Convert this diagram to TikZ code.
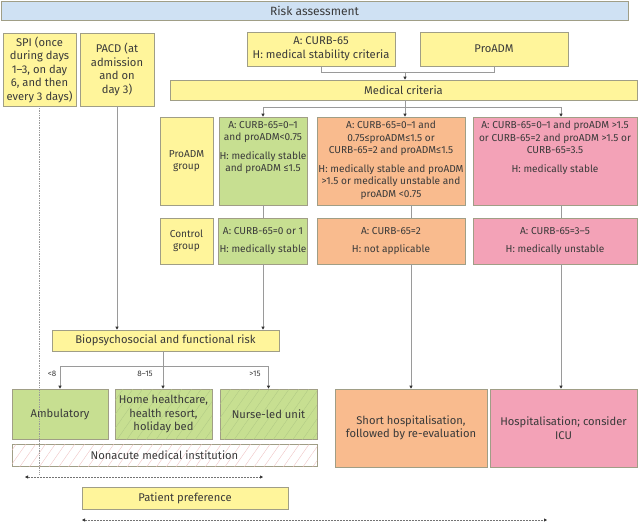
\documentclass[tikz,border=0pt]{standalone}
\usepackage{fontspec}
\setmainfont{Fira Sans}
\usepackage{tikz}
\usetikzlibrary{arrows.meta}
\usetikzlibrary{calc}
\usetikzlibrary{patterns.meta}

\definecolor{riskblue}{HTML}{CFE1F3}
\definecolor{boxyellow}{HTML}{FFF59B}
\definecolor{boxgreen}{HTML}{C7DF91}
\definecolor{boxorange}{HTML}{F9BB8E}
\definecolor{boxpink}{HTML}{F3A2B7}
\definecolor{boxline}{HTML}{A09E86}
\definecolor{edgegray}{HTML}{9A9A9A}
\definecolor{hatchgreen}{HTML}{B0C985}
\definecolor{hatchpink}{HTML}{EFC0C0}
\definecolor{textgray}{HTML}{3A3A3A}

\begin{document}
\begin{tikzpicture}[x=1pt, y=-1pt, font=\fontsize{10.1}{12.5}\selectfont, text=textgray,
        box_style/.style={draw=boxline, line width=0.6pt, inner sep=1pt, align=center},
        risk_style/.style={box_style, fill=riskblue, font=\fontsize{12}{13}\selectfont},
        yellow_style/.style={box_style, fill=boxyellow},
        green_style/.style={box_style, fill=boxgreen},
        orange_style/.style={box_style, fill=boxorange},
        pink_style/.style={box_style, fill=boxpink},
        big_style/.style={font=\fontsize{11.2}{13.5}\selectfont},
        hatch_style/.style={postaction={pattern={Lines[angle=55,distance=8pt,line width=0.35pt]}, pattern color=#1}},
        text_style/.style={align=center, inner sep=0pt, anchor=north},
        label_style/.style={font=\fontsize{8}{9}\selectfont, inner sep=0pt},
        edge_style/.style={draw=edgegray, line width=0.7pt},
        arrow_style/.style={edge_style, -{Triangle[length=3pt,width=3pt,color=black!80]}},
        dot_style/.style={draw=edgegray, line width=0.7pt, densely dotted},
        dotarrow_style/.style={draw=black!55, line width=0.5pt, densely dotted,
            {Triangle[length=3pt,width=3pt,color=black!80]}-{Triangle[length=3pt,width=3pt,color=black!80]}}]

        \useasboundingbox (0,0) rectangle (642,523);

        \node [risk_style, minimum width=627, minimum height=19] (risk) at (314.5,10.5) {Risk assessment};

        \node [yellow_style, big_style, minimum width=73, minimum height=73] (spi) at (39.5,69.5) {SPI (once\\during days\\1--3, on day\\6, and then\\every 3 days)};
        \node [yellow_style, big_style, minimum width=74, minimum height=73] (pacd) at (117,69.5) {PACD (at\\admission\\and on\\day 3)};
        \node [yellow_style, big_style, minimum width=148, minimum height=34] (curb) at (321,49) {A: CURB-65\\H: medical stability criteria};
        \node [yellow_style, big_style, minimum width=148, minimum height=34] (proadm) at (494,49) {ProADM};
        \node [yellow_style, big_style, minimum width=467, minimum height=20] (medical) at (403.5,90) {Medical criteria};

        \node [yellow_style, minimum width=53, minimum height=88] (pgroup) at (186.5,161) {ProADM\\group};
        \node [green_style, minimum width=88, minimum height=88] (g1) at (263,161) {};
        \node [orange_style, minimum width=148, minimum height=88] (o1) at (391,161) {};
        \node [pink_style, minimum width=164, minimum height=88] (p1) at (555,161) {};
        \node [text_style] (g1t) at (263,121) {A: CURB-65=0--1\\and proADM<0.75\\[6pt]H: medically stable\\and proADM ≤1.5};
        \node [text_style] (o1t) at (391,121) {A: CURB-65=0--1 and\\0.75≤proADM≤1.5 or\\CURB-65=2 and proADM≤1.5\\[6pt]H: medically stable and proADM\\>1.5 or medically unstable and\\proADM <0.75};
        \node [text_style] (p1t) at (555,121) {A: CURB-65=0--1 and proADM >1.5\\or CURB-65=2 and proADM >1.5 or\\CURB-65=3.5\\[6pt]H: medically stable};

        \node [yellow_style, minimum width=53, minimum height=46] (cgroup) at (186.5,241) {Control\\group};
        \node [green_style, minimum width=88, minimum height=46] (g2) at (263,241) {A: CURB-65=0 or 1\\[6pt]H: medically stable};
        \node [orange_style, minimum width=148, minimum height=46] (o2) at (391,241) {A: CURB-65=2\\[6pt]H: not applicable};
        \node [pink_style, minimum width=164, minimum height=46] (p2) at (555,241) {A: CURB-65=3--5\\[6pt]H: medically unstable};

        \node [yellow_style, big_style, minimum width=227, minimum height=21] (bio) at (165.5,340.5) {Biopsychosocial and functional risk};

        \node [green_style, big_style, minimum width=96, minimum height=50] (amb) at (60,414) {Ambulatory};
        \node [green_style, big_style, hatch_style=hatchgreen, minimum width=97, minimum height=50] (home) at (163.5,414) {Home healthcare,\\health resort,\\holiday bed};
        \node [green_style, big_style, hatch_style=hatchgreen, minimum width=97, minimum height=50] (nurse) at (268.5,414) {Nurse-led unit};
        \node [box_style, big_style, fill=white, hatch_style=hatchpink, minimum width=305, minimum height=22] (nonacute) at (164.5,455) {Nonacute medical institution};

        \node [orange_style, big_style, minimum width=152, minimum height=78] (short) at (411,428) {Short hospitalisation,\\followed by re-evaluation};
        \node [pink_style, big_style, minimum width=147, minimum height=78] (hosp) at (563.5,428) {Hospitalisation; consider\\ICU};

        \node [yellow_style, big_style, minimum width=206, minimum height=22] (patient) at (185,498) {Patient preference};

        \draw [edge_style] (curb.south) -- ++(0,6) -| (proadm.south);
        \coordinate (cj) at (405,72);
        \draw [arrow_style] (cj) -- (cj |- medical.north);

        \coordinate (mj) at (405,107);
        \draw [edge_style] (mj |- medical.south) -- (mj);
        \draw [arrow_style] (mj) -| (g1.north);
        \draw [arrow_style] (mj) -- (mj |- o1.north);
        \draw [arrow_style] (mj) -| ([xshift=6pt]p1.north);

        \draw [edge_style] (g1.south) -- (g2.north);
        \draw [edge_style] ([xshift=20pt]o1.south) -- ([xshift=20pt]o2.north);
        \draw [edge_style] ([xshift=6pt]p1.south) -- ([xshift=6pt]p2.north);

        \draw [arrow_style] (g2.south) -- (g2.south |- bio.north);
        \draw [arrow_style] (pacd.south) -- (pacd.south |- bio.north);

        \coordinate (bj) at (163,366);
        \draw [edge_style] (bj |- bio.south) -- (bj);
        \draw [arrow_style] (bj) -| (amb.north);
        \draw [arrow_style] (bj) -- (bj |- home.north);
        \draw [arrow_style] (bj) -| (nurse.north);
        \node [label_style] (lt8) at (52,374) {<8};
        \node [label_style] (mid) at (145,374) {8--15};
        \node [label_style] (gt15) at (255,374) {>15};

        \draw [arrow_style] ([xshift=20pt]o2.south) -- (short.north);
        \draw [arrow_style] ([xshift=6pt]p2.south) coordinate (ps) -- (ps |- hosp.north);

        \coordinate (spiend) at (38,475);
        \draw [dot_style] (spi.south) -- (spi.south |- spiend);

        \coordinate (d1a) at (25,477);
        \coordinate (d1b) at (263,477);
        \draw [dotarrow_style] (d1a) -- (d1b);
        \coordinate (d2a) at (82,520);
        \coordinate (d2b) at (547,520);
        \draw [dotarrow_style] (d2a) -- (d2b);
\end{tikzpicture}
\end{document}
